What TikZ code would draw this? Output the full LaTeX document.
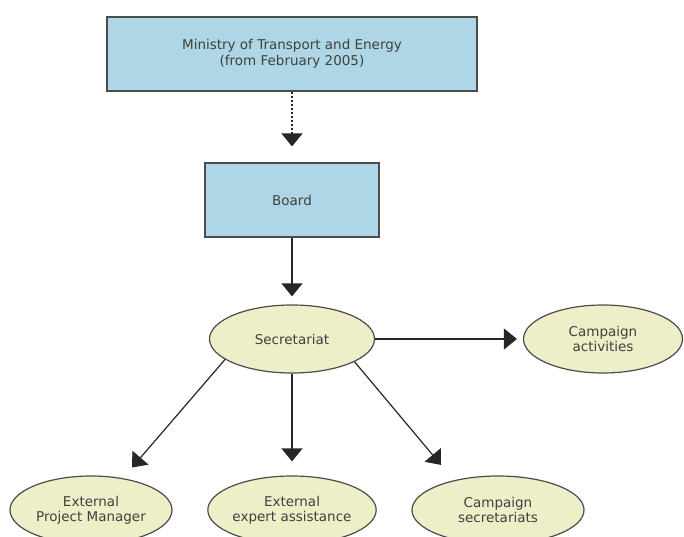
\documentclass[tikz,border=0pt]{standalone}
\usepackage{fontspec}
\setmainfont{DejaVu Sans}
\usetikzlibrary{arrows.meta,positioning,shapes.geometric}

\begin{document}
\begin{tikzpicture}[
    x=1pt,
    y=-1pt,
    unit/.style={
      draw=black!70,
      line width=1.2pt,
      fill=boxblue,
      inner sep=0,
      align=center,
      text=black!75,
      font=\fontsize{13.5}{16}\selectfont,
    },
    group/.style={
      ellipse,
      draw=black!70,
      line width=1.2pt,
      fill=ellyellow,
      inner sep=0,
      minimum height=68,
      align=center,
      text=black!75,
      font=\fontsize{13.5}{15}\selectfont,
    },
    link/.style={
      line width=1.2pt,
      color=black!85,
      -{Triangle[width=21pt,length=13pt]},
    },
  ]
    \definecolor{boxblue}{RGB}{174,214,230}
    \definecolor{ellyellow}{RGB}{238,238,200}

    \useasboundingbox (0,0) rectangle (684,537);
    \clip (0,0) rectangle (684,537);

    \node[unit,minimum width=370,minimum height=74] (ministry) at (292,54)
      {Ministry of Transport and Energy\\(from February 2005)};
    \node[unit,minimum width=174,minimum height=74] (board) at (292,200) {Board};

    \node[group,minimum width=165] (secretariat) at (292,339) {Secretariat};
    \node[group,minimum width=159] (activities) at (603,339) {Campaign\\activities};

    \node[group,minimum width=162] (manager) at (91,510) {External\\Project Manager};
    \node[group,minimum width=165] (expert) at (292,510) {External\\expert assistance};
    \node[group,minimum width=172] (campsec) at (498,510) {Campaign\\secretariats};

    \draw[link,line width=1.6pt,dash pattern=on 2pt off 2pt,shorten >=16pt] (ministry.south) -- (board.north);
    \draw[link,shorten >=8pt] (board.south) -- (secretariat.north);
    \draw[link,shorten >=6pt] (secretariat.east) -- (activities.west);

    \draw[link,shorten >=14pt] (secretariat.197) -- (manager.45);
    \draw[link,shorten >=14pt] (secretariat.south) -- (expert.north);
    \draw[link,shorten >=20pt] (secretariat.340) -- (campsec.146);
  \end{tikzpicture}
\end{document}
